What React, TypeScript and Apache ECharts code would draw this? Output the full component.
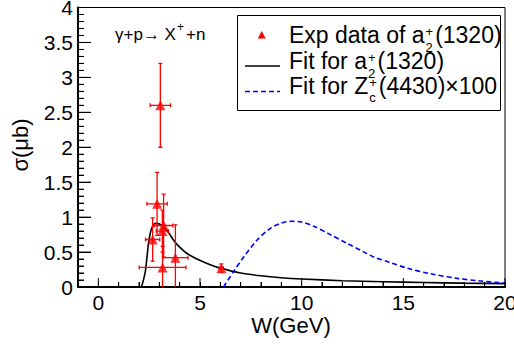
import React, { useEffect, useRef } from "react";
import * as echarts from "echarts";

// Experimental data a2+(1320)
const expX = [3.05, 2.89, 3.21, 3.15, 2.67, 3.79, 3.16, 6.05];
const expY = [2.6, 1.19, 0.88, 0.8, 0.68, 0.42, 0.28, 0.27];
const expXErr = [0.5, 0.5, 0.45, 0.3, 0.35, 0.62, 1.15, 0.1];
const expYErr = [0.6, 0.45, 0.45, 0.3, 0.31, 0.47, 0.3, 0.06];

// Fit for a2+(1320)
const fitAX = [-1, 2.0, 2.12, 2.2, 2.31, 2.4, 2.47, 2.6, 2.8, 3.0, 3.21, 3.5, 3.7, 4.0, 4.36, 4.93, 5.5, 6.0, 7.0, 8.0, 9.0, 10, 12, 14, 16, 18, 20];
const fitAY = [0, 0, 0.01, 0.08, 0.22, 0.45, 0.63, 0.82, 0.91, 0.9, 0.86, 0.76, 0.67, 0.57, 0.48, 0.39, 0.32, 0.27, 0.2, 0.16, 0.133, 0.115, 0.09, 0.075, 0.064, 0.055, 0.048];

// Fit for Zc+(4430) x100
const fitZX = [6.16, 6.65, 7.15, 7.8, 8.46, 9.0, 9.5, 10.0, 10.59, 11.41, 12.23, 13.0, 13.54, 14.36, 15.18, 16.33, 17.64, 18.79, 19.69, 20];
const fitZY = [0, 0.22, 0.43, 0.67, 0.84, 0.915, 0.94, 0.93, 0.87, 0.75, 0.625, 0.51, 0.43, 0.35, 0.27, 0.19, 0.124, 0.086, 0.062, 0.055];

// Axis ticks
const xMajorTicks = [0, 5, 10, 15, 20];
const xMinorTicks = [-1, 1, 2, 3, 4, 6, 7, 8, 9, 11, 12, 13, 14, 16, 17, 18, 19];
const yMajorTicks = [0, 0.5, 1, 1.5, 2, 2.5, 3, 3.5, 4];

const FONT = "'Liberation Sans', Arial, Helvetica, sans-serif";

function measure(text: string, size: number): number {
  const c = document.createElement("canvas");
  const ctx = c.getContext("2d")!;
  ctx.font = `${size}px ${FONT}`;
  return ctx.measureText(text).width;
}

function scriptText(x: number, y: number, main: string, sup: string, sub: string, rest: string, size: number, subSize: number, supDy: number, subDy: number) {
  const els: any[] = [];
  const w1 = measure(main, size);
  els.push({ type: "text", x, y, style: { text: main, font: `${size}px ${FONT}`, fill: "#000", textAlign: "left", textVerticalAlign: "middle" } });
  let w2 = 0;
  if (sup) {
    els.push({ type: "text", x: x + w1 + 1, y: y + supDy, style: { text: sup, font: `${subSize}px ${FONT}`, fill: "#000", textAlign: "left", textVerticalAlign: "middle" } });
    w2 = Math.max(w2, measure(sup, subSize));
  }
  if (sub) {
    els.push({ type: "text", x: x + w1 + 1, y: y + subDy, style: { text: sub, font: `${subSize}px ${FONT}`, fill: "#000", textAlign: "left", textVerticalAlign: "middle" } });
    w2 = Math.max(w2, measure(sub, subSize));
  }
  if (rest) {
    els.push({ type: "text", x: x + w1 + w2 + 3, y, style: { text: rest, font: `${size}px ${FONT}`, fill: "#000", textAlign: "left", textVerticalAlign: "middle" } });
  }
  return els;
}

export default function App() {
  const ref = useRef<HTMLDivElement>(null);
  useEffect(() => {
    if (!ref.current) return;
    const chart = echarts.init(ref.current, null, { renderer: "svg" });

    const errData = expX.map((x, i) => [x, expY[i], expXErr[i], expYErr[i]]);
    const scatterData = expX.map((x, i) => [x, expY[i]]);
    const lineA = fitAX.map((x, i) => [x, fitAY[i]]);
    const lineZ = fitZX.map((x, i) => [x, fitZY[i]]);

    chart.setOption({
      animation: false,
      backgroundColor: "#fff",
      grid: {
        left: 78, right: 9, top: 7.5, bottom: 59,
        containLabel: false, outerBoundsMode: "none",
        show: true, borderColor: "#000", borderWidth: 1, backgroundColor: "transparent",
      },
      xAxis: {
        type: "value", min: -1, max: 20, interval: 1,
        axisLine: { show: true, onZero: false, lineStyle: { color: "#000", width: 2 } },
        axisTick: { show: true, inside: true, length: 5, lineStyle: { color: "#000", width: 1 } },
        axisLabel: { show: true, color: "#000", fontSize: 21, fontFamily: FONT, margin: 5, formatter: (v: number) => (xMajorTicks.indexOf(v) >= 0 ? String(v) : "") },
        splitLine: { show: false },
      },
      yAxis: {
        type: "value", min: 0, max: 4, interval: 0.5,
        axisLine: { show: true, onZero: false, lineStyle: { color: "#000", width: 2 } },
        axisTick: { show: true, inside: true, length: 13, lineStyle: { color: "#000", width: 1 } },
        minorTick: { show: true, splitNumber: 5, length: 6, lineStyle: { color: "#000", width: 1 } },
        axisLabel: { color: "#000", fontSize: 21, fontFamily: FONT, margin: 5 },
        splitLine: { show: false },
      },
      series: [
        {
          type: "line", data: lineA, showSymbol: false, symbol: "none", smooth: 0.3,
          lineStyle: { color: "#000", width: 1.6 }, z: 3, clip: true,
        },
        {
          type: "line", data: lineZ, showSymbol: false, symbol: "none", smooth: 0.3,
          lineStyle: { color: "#0000ff", width: 1.6, type: [5, 3] }, z: 3, clip: true,
        },
        {
          type: "custom", data: errData, clip: true, z: 4,
          renderItem: (params: any, api: any) => {
            const x = api.value(0), y = api.value(1), ex = api.value(2), ey = api.value(3);
            const c = api.coord([x, y]);
            const l = api.coord([x - ex, y]);
            const r = api.coord([x + ex, y]);
            const t = api.coord([x, y + ey]);
            const b = api.coord([x, y - ey]);
            const st = { stroke: "#ff0000", lineWidth: 1.3 };
            const cap = 2;
            return {
              type: "group",
              children: [
                { type: "line", shape: { x1: l[0], y1: c[1], x2: r[0], y2: c[1] }, style: st },
                { type: "line", shape: { x1: c[0], y1: t[1], x2: c[0], y2: b[1] }, style: st },
                { type: "line", shape: { x1: l[0], y1: c[1] - cap, x2: l[0], y2: c[1] + cap }, style: st },
                { type: "line", shape: { x1: r[0], y1: c[1] - cap, x2: r[0], y2: c[1] + cap }, style: st },
                { type: "line", shape: { x1: c[0] - cap, y1: t[1], x2: c[0] + cap, y2: t[1] }, style: st },
                { type: "line", shape: { x1: c[0] - cap, y1: b[1], x2: c[0] + cap, y2: b[1] }, style: st },
              ],
            };
          },
        },
        {
          type: "scatter", data: scatterData, symbol: "triangle", symbolSize: 10,
          itemStyle: { color: "#ff0000" }, z: 5,
        },
      ],
    });

    // Tick marks drawn at positions given by the chart's own scales
    const finder = { xAxisIndex: 0, yAxisIndex: 0 };
    const tickEls: any[] = [];
    const tickStyle = { stroke: "#000", lineWidth: 1 };
    const addX = (v: number, len: number) => {
      const p = chart.convertToPixel(finder, [v, 0]) as number[];
      if (p) tickEls.push({ type: "line", silent: true, z: 50, shape: { x1: p[0], y1: p[1], x2: p[0], y2: p[1] - len }, style: tickStyle });
    };
    const addY = (v: number, len: number) => {
      const p = chart.convertToPixel(finder, [-1, v]) as number[];
      if (p) tickEls.push({ type: "line", silent: true, z: 50, shape: { x1: p[0], y1: p[1], x2: p[0] + len, y2: p[1] }, style: tickStyle });
    };
    xMajorTicks.forEach((v) => addX(v, 9));
    xMinorTicks.forEach((v) => addX(v, 5));
    yMajorTicks.forEach((v, i) => {
      addY(v, 13);
      if (i < yMajorTicks.length - 1) {
        for (let k = 1; k < 5; k++) addY(v + (k * (yMajorTicks[i + 1] - v)) / 5, 6);
      }
    });

    const legendEls: any[] = [
      { type: "rect", shape: { x: 237.5, y: 15.5, width: 263, height: 95 }, style: { fill: "#fff", stroke: "#000", lineWidth: 1 }, z: 100 },
      { type: "polygon", shape: { points: [[261.7, 31], [257.7, 38.5], [265.7, 38.5]] }, style: { fill: "#ff0000" }, z: 101 },
      { type: "line", shape: { x1: 245, y1: 66, x2: 280, y2: 66 }, style: { stroke: "#000", lineWidth: 1.5 }, z: 101 },
      { type: "line", shape: { x1: 245, y1: 91.5, x2: 280, y2: 91.5 }, style: { stroke: "#0000ff", lineWidth: 1.5, lineDash: [5, 3] }, z: 101 },
      ...scriptText(289, 35, "Exp data of a", "+", "2", "(1320)", 23, 13, -4, 12).map((e) => ({ ...e, z: 101 })),
      ...scriptText(289, 61, "Fit for a", "+", "2", "(1320)", 23, 13, -4, 12).map((e) => ({ ...e, z: 101 })),
      ...scriptText(289, 86, "Fit for Z", "+", "c", "(4430)\u00d7100", 23, 13, -4, 11).map((e) => ({ ...e, z: 101 })),
    ];

    const annEls = scriptText(115, 34, "\u03b3+p\u2192 X", "+", "", "+n", 17, 12, -7, 0);

    chart.setOption({
      graphic: [
        { type: "text", x: 20, y: 145, rotation: Math.PI / 2, style: { text: "\u03c3(\u03bcb)", font: `22px ${FONT}`, fill: "#000", textAlign: "center", textVerticalAlign: "middle" } },
        { type: "text", x: 291, y: 325, style: { text: "W(GeV)", font: `22px ${FONT}`, fill: "#000", textAlign: "center", textVerticalAlign: "middle" } },
        ...annEls,
        ...legendEls,
        ...tickEls,
      ],
    });

    return () => chart.dispose();
  }, []);
  return <div ref={ref} style={{ width: 514, height: 346, position: "absolute", left: 0, top: 0 }} />;
}
